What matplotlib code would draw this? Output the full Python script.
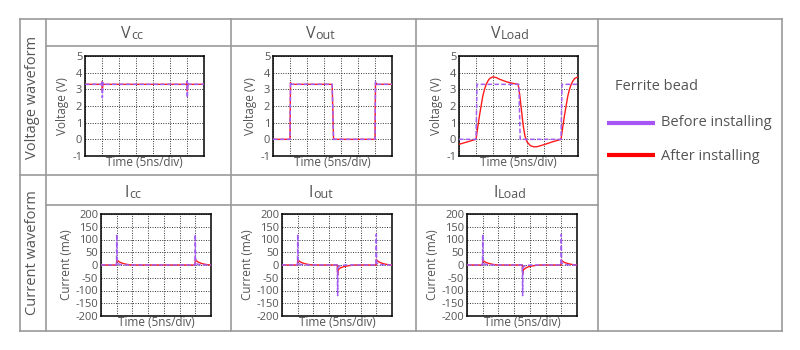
import numpy as np
import matplotlib
matplotlib.use('Agg')
import matplotlib.pyplot as plt

plt.rcParams['font.family'] = ['Open Sans', 'DejaVu Sans']

# ---- data (time in ns, 5 ns/div, 7 divs) ----
vcc_before_t = [0, 4.9, 5.0, 5.1, 5.25, 5.5, 29.9, 30.0, 30.1, 30.25, 30.5, 35]
vcc_before_v = [3.3, 3.3, 3.5, 2.5, 3.4, 3.3, 3.3, 3.5, 2.5, 3.4, 3.3, 3.3]
vcc_after_t = [0, 4.9, 5.0, 5.1, 5.25, 5.5, 29.9, 30.0, 30.1, 30.25, 30.5, 35]
vcc_after_v = [3.3, 3.3, 3.45, 2.9, 3.35, 3.3, 3.3, 3.45, 2.9, 3.35, 3.3, 3.3]

vout_before_t = [0, 5.0, 5.15, 5.4, 17.4, 17.8, 18.0, 30.0, 30.15, 30.4, 35]
vout_before_v = [0, 0, 3.45, 3.3, 3.3, 0.0, 0.0, 0, 3.45, 3.3, 3.3]
vout_after_t = [0, 5.0, 5.15, 5.4, 17.4, 17.8, 18.0, 30.0, 30.15, 30.4, 35]
vout_after_v = [0, 0, 3.4, 3.3, 3.3, 0.05, 0.0, 0, 3.4, 3.3, 3.3]

vload_before_t = [0, 5.0, 5.3, 17.6, 18.0, 30.0, 30.3, 35]
vload_before_v = [0, 0, 3.3, 3.3, 0, 0, 3.3, 3.3]
vload_after_t = [0, 2.5, 5.0, 5.5, 6.0, 6.5, 7.0, 7.5, 8.0, 8.5, 9.0, 10.0, 11.0,
                 12.0, 14.0, 16.0, 17.4, 17.9, 18.4, 18.9, 19.4, 20.0, 21.0, 22.0,
                 23.0, 25.0, 27.5, 30.0, 30.5, 31.0, 31.5, 32.0, 32.5, 33.0, 33.5,
                 34.0, 35.0]
vload_after_v = [-0.3, -0.15, 0.0, 0.7, 1.4, 2.0, 2.6, 3.0, 3.3, 3.5, 3.65, 3.75, 3.7,
                 3.6, 3.45, 3.35, 3.3, 2.6, 1.7, 0.8, 0.2, -0.15, -0.38, -0.45,
                 -0.44, -0.32, -0.15, 0.0, 0.7, 1.4, 2.0, 2.6, 3.0, 3.3, 3.5,
                 3.65, 3.75]

icc_before_t = [0, 4.95, 5.0, 5.1, 5.3, 5.6, 6.0, 7.0, 8.0, 29.95, 30.0, 30.1, 30.3, 30.6, 31.0, 32.0, 33.0, 35]
icc_before_v = [0, 0, 120, 10, 6, 4, 2, 1, 0, 0, 120, 10, 6, 4, 2, 1, 0, 0]
icc_after_t = [0, 4.95, 5.0, 5.5, 6.0, 7.0, 8.0, 9.0, 10.0, 29.95, 30.0, 30.5, 31.0, 32.0, 33.0, 34.0, 35.0]
icc_after_v = [0, 0, 22, 15, 11, 6, 3, 1, 0, 0, 22, 15, 11, 6, 3, 1, 0]

iout_before_t = [0, 4.95, 5.0, 5.1, 5.3, 5.6, 6.0, 7.0, 8.0, 17.6, 17.7, 17.8, 18.0, 18.5, 19.5, 21.0,
                 29.95, 30.0, 30.1, 30.3, 30.6, 31.0, 32.0, 33.0, 35]
iout_before_v = [0, 0, 120, 10, 6, 4, 2, 1, 0, 0, -120, -10, -6, -3, -1, 0,
                 0, 120, 10, 6, 4, 2, 1, 0, 0]
iout_after_t = [0, 4.95, 5.0, 5.5, 6.0, 7.0, 8.0, 9.0, 10.0, 17.6, 17.7, 17.9, 18.5, 19.5, 21.0, 23.0,
                29.95, 30.0, 30.5, 31.0, 32.0, 33.0, 34.0, 35.0]
iout_after_v = [0, 0, 22, 15, 11, 6, 3, 1, 0, 0, -40, -18, -12, -7, -3, 0,
                0, 22, 15, 11, 6, 3, 1, 0]

iload_before_t = iout_before_t
iload_before_v = iout_before_v
iload_after_t = iout_after_t
iload_after_v = [0, 0, 20, 14, 10, 6, 3, 1, 0, 0, -35, -20, -13, -7, -3, 0,
                 0, 20, 14, 10, 6, 3, 1, 0]

v_ticks = [-1, 0, 1, 2, 3, 4, 5]
i_ticks = [-200, -150, -100, -50, 0, 50, 100, 150, 200]

PURPLE = '#a25ef2'
RED = '#ff1a1a'
GREY_TXT = '#555555'
LINE = '#9a9a9a'

W, H = 800, 350
fig = plt.figure(figsize=(8, 3.5), dpi=100)

bg = fig.add_axes([0, 0, 1, 1])
bg.set_xlim(0, W)
bg.set_ylim(H, 0)
bg.axis('off')

# table lines
for x in [20, 46, 231, 416, 598, 782]:
    bg.plot([x, x], [19, 331], color=LINE, lw=1.2)
for y, x0, x1 in [(19, 20, 782), (331, 20, 782), (175, 20, 598), (46, 46, 598), (205, 46, 598)]:
    bg.plot([x0, x1], [y, y], color=LINE, lw=1.2)

bg.text(33, 97, 'Voltage waveform', rotation=90, ha='center', va='center', fontsize=10.5, color=GREY_TXT)
bg.text(33, 253, 'Current waveform', rotation=90, ha='center', va='center', fontsize=10.5, color=GREY_TXT)


def header(xc, y, big, small):
    t = bg.text(xc - 9, y, big, ha='center', va='baseline', fontsize=11.5, color=GREY_TXT)
    bg.annotate(small, xy=(1, 0), xycoords=t, va='bottom', ha='left',
                fontsize=9, color=GREY_TXT)


header(135, 38, 'V', 'cc')
header(320, 38, 'V', 'out')
header(505, 38, 'V', 'Load')
header(136, 197, 'I', 'cc')
header(320, 197, 'I', 'out')
header(505, 197, 'I', 'Load')

# legend
bg.text(615, 86, 'Ferrite bead', ha='left', va='center', fontsize=10.5, color=GREY_TXT)
bg.plot([607, 655], [123, 123], color='#a855f7', lw=3, solid_capstyle='butt')
bg.text(661, 123, 'Before installing', ha='left', va='center', fontsize=10.5, color=GREY_TXT)
bg.plot([607, 655], [155, 155], color='#ff0000', lw=3, solid_capstyle='butt')
bg.text(661, 156, 'After installing', ha='left', va='center', fontsize=10.5, color=GREY_TXT)


def make_ax(x0, x1, y0, y1):
    return fig.add_axes([x0 / W, 1 - y1 / H, (x1 - x0) / W, (y1 - y0) / H])


def style(ax, ticks, ylabel):
    ax.set_xlim(0, 35)
    ax.set_ylim(ticks[0], ticks[-1])
    ax.set_xticks(np.arange(0, 36, 5))
    ax.set_yticks(ticks)
    ax.set_yticklabels([str(v) for v in ticks])
    ax.tick_params(axis='x', labelbottom=False, length=0)
    ax.tick_params(axis='y', length=0, pad=2, labelsize=8, labelcolor=GREY_TXT)
    ax.grid(True, color='#333333', ls=(0, (1, 1.5)), lw=0.7)
    for s in ax.spines.values():
        s.set_color('black')
        s.set_linewidth(1.1)
    ax.set_ylabel(ylabel, fontsize=8.5, color=GREY_TXT, labelpad=2)
    ax.set_xlabel('Time (5ns/div)', fontsize=8.5, color=GREY_TXT, labelpad=0)


panels = [
    ((85, 204, 56, 156), v_ticks, 'Voltage (V)', vcc_before_t, vcc_before_v, vcc_after_t, vcc_after_v),
    ((273, 392, 56, 156), v_ticks, 'Voltage (V)', vout_before_t, vout_before_v, vout_after_t, vout_after_v),
    ((459, 578, 56, 156), v_ticks, 'Voltage (V)', vload_before_t, vload_before_v, vload_after_t, vload_after_v),
    ((101, 211, 214, 316), i_ticks, 'Current (mA)', icc_before_t, icc_before_v, icc_after_t, icc_after_v),
    ((282, 392, 214, 316), i_ticks, 'Current (mA)', iout_before_t, iout_before_v, iout_after_t, iout_after_v),
    ((467, 577, 214, 316), i_ticks, 'Current (mA)', iload_before_t, iload_before_v, iload_after_t, iload_after_v),
]

for box, ticks, ylab, bt, bv, at, av in panels:
    ax = make_ax(*box)
    style(ax, ticks, ylab)
    ax.plot(at, av, color=RED, lw=1.0, zorder=3)
    ax.plot(bt, bv, color=PURPLE, lw=1.1, ls=(0, (3, 1.5)), zorder=4)

fig.savefig('out.png', dpi=100)
